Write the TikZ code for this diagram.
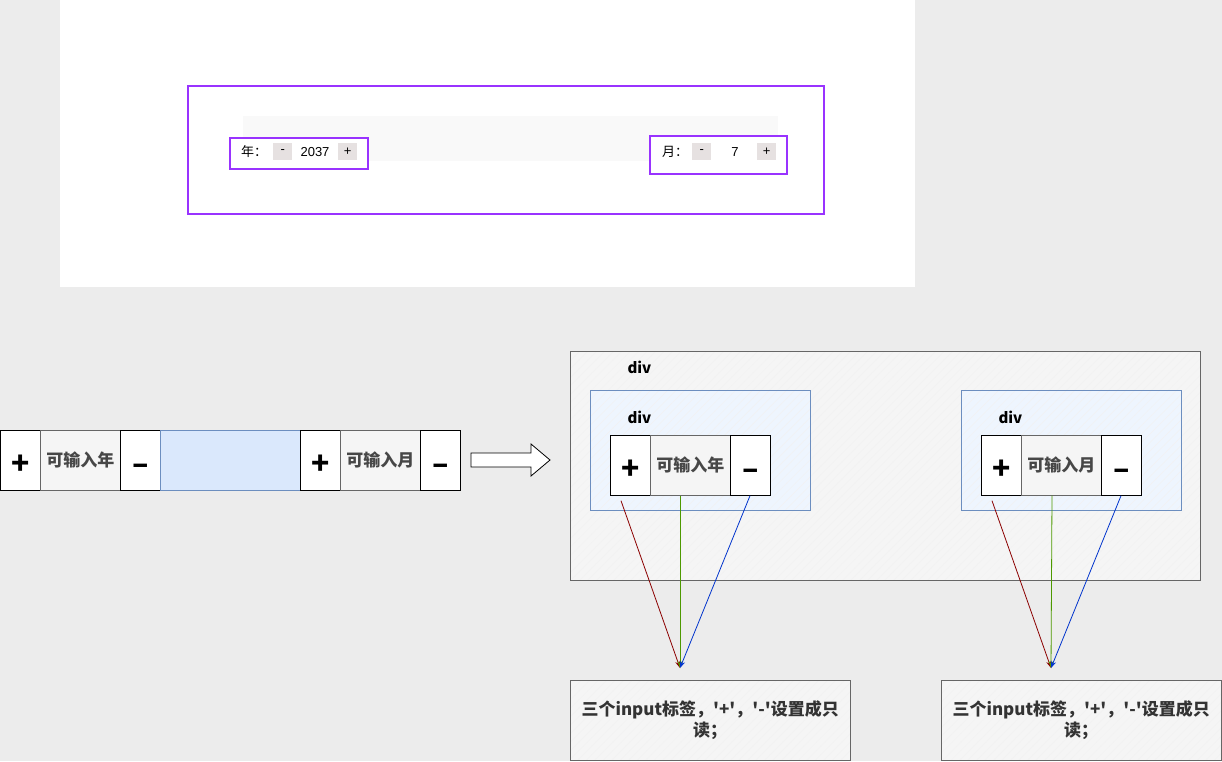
\documentclass[tikz,border=0pt]{standalone}
\usepackage{fontspec}
\setmainfont{Liberation Sans}
\newfontfamily\cjk{Noto Sans CJK SC}
\usetikzlibrary{arrows.meta,patterns.meta,calc}
\definecolor{bgc}{HTML}{ECECEC}
\definecolor{purp}{HTML}{9933FF}
\definecolor{btn}{HTML}{E6E1E1}
\definecolor{bluef}{HTML}{DAE8FC}
\definecolor{blues}{HTML}{6C8EBF}
\definecolor{lgray}{HTML}{F5F5F5}
\definecolor{darkred}{HTML}{8B0000}
\definecolor{grn}{HTML}{4D9900}
\definecolor{blu}{HTML}{0033CC}
\tikzset{
  cell/.style={draw=black, fill=white, anchor=north west, inner sep=0pt, line width=0.7pt,
    text height=30pt, text depth=2pt,
    font=\cjk\bfseries\fontsize{30}{30}\selectfont},
  lab/.style={draw=black!60, fill=lgray, anchor=north west, inner sep=0pt, line width=0.7pt,
    text=black!72, font=\cjk\bfseries\fontsize{17}{18}\selectfont},
  pbox/.style={draw=purp, line width=1.5pt, fill=white, anchor=north west, inner sep=0pt},
  shad/.style={fill=black!22},
  tbtn/.style={fill=btn, anchor=north west, inner sep=0pt, minimum width=19pt, minimum height=17pt,
    font=\fontsize{13}{13}\selectfont},
  hatch/.style={pattern={Lines[angle=45,distance=6pt,line width=0.5pt]}, pattern color=black!5},
  bigc/.style={fill=black!4, anchor=north west, inner sep=0pt,
    postaction={hatch}, postaction={draw=black!60, line width=0.9pt}},
  bluec/.style={fill=bluef!45, anchor=north west, inner sep=0pt,
    postaction={hatch}, postaction={draw=blues, line width=0.9pt}},
  divl/.style={font=\cjk\bfseries\fontsize{15}{15}\selectfont, anchor=west},
  note/.style={fill=black!4, anchor=north west, inner sep=0pt,
    postaction={hatch}, postaction={draw=black!60, line width=0.9pt},
    align=center, text=black!80, font=\cjk\bfseries\fontsize{17}{21}\selectfont},
  ar/.style={-{Stealth[length=7pt,width=5pt]}, line width=0.8pt}
}
\begin{document}
\begin{tikzpicture}[x=1pt,y=-1pt]
\useasboundingbox (0,0) rectangle (1222,761);
\fill[bgc] (0,0) rectangle (1222,761);
\fill[white] (60,0) rectangle (915,287);

% top mock-up
\fill[shad] (189,87) rectangle (825,215);
\node[pbox, minimum width=636pt, minimum height=128pt] (outer) at (187,85) {};
\fill[black!2.5] (243,116) rectangle (778,161);
\fill[shad] (231,139) rectangle (369,170);
\node[pbox, minimum width=138pt, minimum height=31pt] (ybox) at (229,137) {};
\fill[shad] (651,137) rectangle (788,175);
\node[pbox, minimum width=137pt, minimum height=38pt] (mbox) at (649,135) {};
\node[anchor=center, font=\cjk\fontsize{13}{13}\selectfont] (ylab) at (254,152) {年：};
\node[tbtn] (yminus) at (273,143) {-};
\node[anchor=center, font=\fontsize{13}{13}\selectfont] (yval) at (315,152) {2037};
\node[tbtn] (yplus) at (338,143) {+};
\node[anchor=center, font=\cjk\fontsize{13}{13}\selectfont] (mlab) at (675,152) {月：};
\node[tbtn] (mminus) at (692,143) {-};
\node[anchor=center, font=\fontsize{13}{13}\selectfont] (mval) at (735,152) {7};
\node[tbtn] (mplus) at (757,143) {+};

% left row
\node[cell, minimum width=40pt, minimum height=60pt] (a1) at (0,430) {+};
\node[lab, minimum width=80pt, minimum height=60pt] (a2) at (40,430) {可输入年};
\node[cell, minimum width=40pt, minimum height=60pt] (a3) at (120,430) {–};
\node[draw=blues, fill=bluef, anchor=north west, inner sep=0pt, minimum width=140pt, minimum height=60pt, line width=0.7pt] (gap) at (160,430) {};
\node[cell, minimum width=40pt, minimum height=60pt] (a4) at (300,430) {+};
\node[lab, minimum width=80pt, minimum height=60pt] (a5) at (340,430) {可输入月};
\node[cell, minimum width=40pt, minimum height=60pt] (a6) at (420,430) {–};

% block arrow
\draw[line width=0.8pt, fill=white] (471,453) -- (531,453) -- (531,444) -- (550,460) -- (531,476) -- (531,467) -- (471,467) -- cycle;

% right structure
\node[bigc, minimum width=630pt, minimum height=229pt] (big) at (570,351) {};
\node[divl] (d0) at (624,367) {div};
\node[bluec, minimum width=220pt, minimum height=120pt] (b1) at (590,390) {};
\node[divl] (d1) at (624,417) {div};
\node[bluec, minimum width=220pt, minimum height=120pt] (b2) at (961,390) {};
\node[divl] (d2) at (995,417) {div};

\node[cell, minimum width=40pt, minimum height=60pt] (c1) at (610,435) {+};
\node[lab, minimum width=80pt, minimum height=60pt] (c2) at (650,435) {可输入年};
\node[cell, minimum width=40pt, minimum height=60pt] (c3) at (730,435) {–};
\node[cell, minimum width=40pt, minimum height=60pt] (e1) at (981,435) {+};
\node[lab, minimum width=80pt, minimum height=60pt] (e2) at (1021,435) {可输入月};
\node[cell, minimum width=40pt, minimum height=60pt] (e3) at (1101,435) {–};

\node[note, minimum width=280pt, minimum height=80pt] (n1) at (570,680) {三个input标签，'+'，'-'设置成只\\读；};
\node[note, minimum width=280pt, minimum height=80pt] (n2) at (941,680) {三个input标签，'+'，'-'设置成只\\读；};

\coordinate (t1) at (680,668);
\coordinate (t2) at (1051,668);

\draw[ar, darkred] ($(c1.south west)+(11,5)$) -- (t1);
\draw[ar, grn] ($(c2.south west)+(30,0)$) -- (t1);
\draw[ar, blu] ($(c3.south west)+(20,0)$) -- (t1);
\draw[ar, darkred] ($(e1.south west)+(11,5)$) -- (t2);
\draw[ar, grn] ($(e2.south west)+(31,0)$) -- (t2);
\draw[ar, blu] ($(e3.south west)+(20,0)$) -- (t2);
\end{tikzpicture}
\end{document}
